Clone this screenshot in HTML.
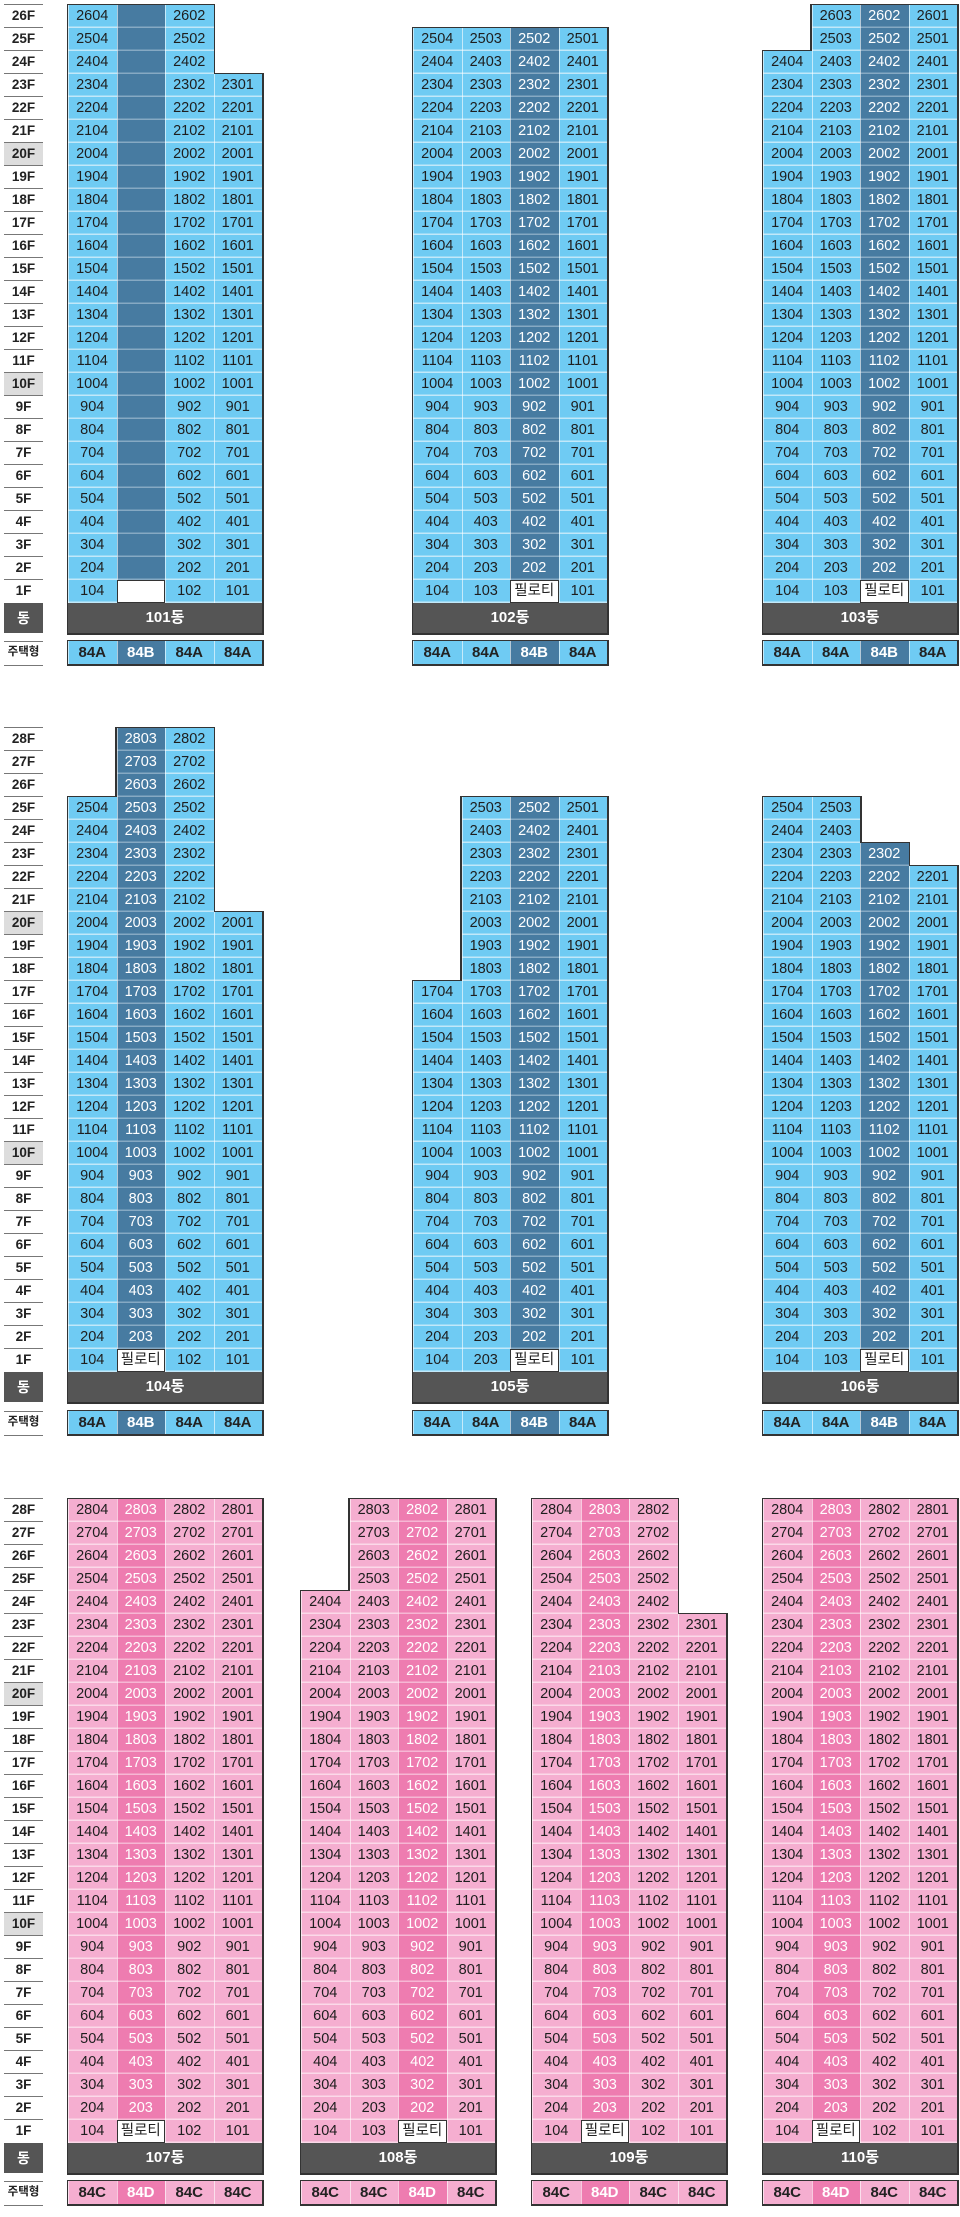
<!DOCTYPE html>
<html><head><meta charset="utf-8">
<style>
body{margin:0;width:960px;height:2217px;position:relative;background:#fff;font-family:"Liberation Sans","Noto Sans CJK KR",sans-serif;overflow:hidden}
.c{position:absolute;width:48.5px;text-align:center;font-size:14.5px;line-height:23px;word-spacing:60px;color:#1e1e1e;background:repeating-linear-gradient(#6fcbf3 0 21.5px,#c2e8f9 21.5px 23px);box-shadow:inset 1px 0 rgba(255,255,255,.6)}
.c::before,.dg::before,.t::before{content:"";position:absolute;left:-1.5px;top:-1.5px;right:-1.5px;bottom:-1.5px;background:#333;z-index:-1}
.d{background:repeating-linear-gradient(#477ba1 0 21.5px,#86a9c3 21.5px 23px);color:#fff}
.p{background:repeating-linear-gradient(#f5aed0 0 21.5px,#fbd9e9 21.5px 23px)}
.q{background:repeating-linear-gradient(#ee7cb0 0 21.5px,#f6b7d4 21.5px 23px);color:#fff}
.w{position:absolute;width:48.5px;height:23px;background:#fff;border:1.5px solid #333;box-sizing:border-box;text-align:center;line-height:20px;font-size:14.5px;color:#222}
.dg{position:absolute;height:30px;width:194px;background:#555;color:#fff;font-weight:bold;font-size:15px;text-align:center;line-height:30px}
.t{position:absolute;width:48.5px;height:23px;line-height:23px;text-align:center;font-weight:bold;font-size:15px;color:#222;background:#6fcbf3;box-shadow:inset 1px 0 rgba(255,255,255,.6)}
.t.d{background:#477ba1;color:#fff}.t.p{background:#f5aed0}.t.q{background:#ee7cb0;color:#fff}
.lb{position:absolute;left:4px;width:39px;font-weight:bold;font-size:13.5px;text-align:center;color:#222}
.lb div{height:23px;line-height:22px;border-top:1.5px solid #777;box-sizing:border-box}
.lb .g{background:#ddd}
.dl{position:absolute;left:4px;width:39px;height:30px;background:#555;color:#fff;font-weight:bold;font-size:14px;text-align:center;line-height:30px}
.tl{position:absolute;left:4px;width:39px;height:23px;border-top:1.5px solid #777;border-bottom:1.5px solid #777;font-weight:bold;font-size:11.5px;text-align:center;line-height:20px;color:#222}
</style></head><body>

<!-- ===== Section 1 ===== -->
<div class="lb" style="top:4px"><div>26F</div><div>25F</div><div>24F</div><div>23F</div><div>22F</div><div>21F</div><div class="g">20F</div><div>19F</div><div>18F</div><div>17F</div><div>16F</div><div>15F</div><div>14F</div><div>13F</div><div>12F</div><div>11F</div><div class="g">10F</div><div>9F</div><div>8F</div><div>7F</div><div>6F</div><div>5F</div><div>4F</div><div>3F</div><div>2F</div><div>1F</div></div>
<div class="dl" style="top:603px">동</div>
<div class="tl" style="top:641px">주택형</div>

<!-- 101 -->
<div class="c" style="left:68px;top:5px;height:598px">2604 2504 2404 2304 2204 2104 2004 1904 1804 1704 1604 1504 1404 1304 1204 1104 1004 904 804 704 604 504 404 304 204 104</div>
<div class="c d" style="left:116.5px;top:5px;height:598px"></div>
<div class="c" style="left:165px;top:5px;height:598px">2602 2502 2402 2302 2202 2102 2002 1902 1802 1702 1602 1502 1402 1302 1202 1102 1002 902 802 702 602 502 402 302 202 102</div>
<div class="c" style="left:213.5px;top:74px;height:529px">2301 2201 2101 2001 1901 1801 1701 1601 1501 1401 1301 1201 1101 1001 901 801 701 601 501 401 301 201 101</div>
<div class="w" style="left:116.5px;top:580px"></div>
<div class="dg" style="left:68px;top:603px">101동</div>
<div class="t" style="left:68px;top:641px">84A</div><div class="t d" style="left:116.5px;top:641px">84B</div><div class="t" style="left:165px;top:641px">84A</div><div class="t" style="left:213.5px;top:641px">84A</div>

<!-- 102 -->
<div class="c" style="left:413px;top:28px;height:575px">2504 2404 2304 2204 2104 2004 1904 1804 1704 1604 1504 1404 1304 1204 1104 1004 904 804 704 604 504 404 304 204 104</div>
<div class="c" style="left:461.5px;top:28px;height:575px">2503 2403 2303 2203 2103 2003 1903 1803 1703 1603 1503 1403 1303 1203 1103 1003 903 803 703 603 503 403 303 203 103</div>
<div class="c d" style="left:510px;top:28px;height:575px">2502 2402 2302 2202 2102 2002 1902 1802 1702 1602 1502 1402 1302 1202 1102 1002 902 802 702 602 502 402 302 202</div>
<div class="c" style="left:558.5px;top:28px;height:575px">2501 2401 2301 2201 2101 2001 1901 1801 1701 1601 1501 1401 1301 1201 1101 1001 901 801 701 601 501 401 301 201 101</div>
<div class="w" style="left:510px;top:580px">필로티</div>
<div class="dg" style="left:413px;top:603px">102동</div>
<div class="t" style="left:413px;top:641px">84A</div><div class="t" style="left:461.5px;top:641px">84A</div><div class="t d" style="left:510px;top:641px">84B</div><div class="t" style="left:558.5px;top:641px">84A</div>

<!-- 103 -->
<div class="c" style="left:763px;top:51px;height:552px">2404 2304 2204 2104 2004 1904 1804 1704 1604 1504 1404 1304 1204 1104 1004 904 804 704 604 504 404 304 204 104</div>
<div class="c" style="left:811.5px;top:5px;height:598px">2603 2503 2403 2303 2203 2103 2003 1903 1803 1703 1603 1503 1403 1303 1203 1103 1003 903 803 703 603 503 403 303 203 103</div>
<div class="c d" style="left:860px;top:5px;height:598px">2602 2502 2402 2302 2202 2102 2002 1902 1802 1702 1602 1502 1402 1302 1202 1102 1002 902 802 702 602 502 402 302 202</div>
<div class="c" style="left:908.5px;top:5px;height:598px">2601 2501 2401 2301 2201 2101 2001 1901 1801 1701 1601 1501 1401 1301 1201 1101 1001 901 801 701 601 501 401 301 201 101</div>
<div class="w" style="left:860px;top:580px">필로티</div>
<div class="dg" style="left:763px;top:603px">103동</div>
<div class="t" style="left:763px;top:641px">84A</div><div class="t" style="left:811.5px;top:641px">84A</div><div class="t d" style="left:860px;top:641px">84B</div><div class="t" style="left:908.5px;top:641px">84A</div>

<!-- ===== Section 2 ===== -->
<div class="lb" style="top:727px"><div>28F</div><div>27F</div><div>26F</div><div>25F</div><div>24F</div><div>23F</div><div>22F</div><div>21F</div><div class="g">20F</div><div>19F</div><div>18F</div><div>17F</div><div>16F</div><div>15F</div><div>14F</div><div>13F</div><div>12F</div><div>11F</div><div class="g">10F</div><div>9F</div><div>8F</div><div>7F</div><div>6F</div><div>5F</div><div>4F</div><div>3F</div><div>2F</div><div>1F</div></div>
<div class="dl" style="top:1372px">동</div>
<div class="tl" style="top:1411px">주택형</div>

<!-- 104 -->
<div class="c" style="left:68px;top:797px;height:575px">2504 2404 2304 2204 2104 2004 1904 1804 1704 1604 1504 1404 1304 1204 1104 1004 904 804 704 604 504 404 304 204 104</div>
<div class="c d" style="left:116.5px;top:728px;height:644px">2803 2703 2603 2503 2403 2303 2203 2103 2003 1903 1803 1703 1603 1503 1403 1303 1203 1103 1003 903 803 703 603 503 403 303 203</div>
<div class="c" style="left:165px;top:728px;height:644px">2802 2702 2602 2502 2402 2302 2202 2102 2002 1902 1802 1702 1602 1502 1402 1302 1202 1102 1002 902 802 702 602 502 402 302 202 102</div>
<div class="c" style="left:213.5px;top:912px;height:460px">2001 1901 1801 1701 1601 1501 1401 1301 1201 1101 1001 901 801 701 601 501 401 301 201 101</div>
<div class="w" style="left:116.5px;top:1349px">필로티</div>
<div class="dg" style="left:68px;top:1372px">104동</div>
<div class="t" style="left:68px;top:1411px">84A</div><div class="t d" style="left:116.5px;top:1411px">84B</div><div class="t" style="left:165px;top:1411px">84A</div><div class="t" style="left:213.5px;top:1411px">84A</div>

<!-- 105 -->
<div class="c" style="left:413px;top:981px;height:391px">1704 1604 1504 1404 1304 1204 1104 1004 904 804 704 604 504 404 304 204 104</div>
<div class="c" style="left:461.5px;top:797px;height:575px">2503 2403 2303 2203 2103 2003 1903 1803 1703 1603 1503 1403 1303 1203 1103 1003 903 803 703 603 503 403 303 203 203</div>
<div class="c d" style="left:510px;top:797px;height:575px">2502 2402 2302 2202 2102 2002 1902 1802 1702 1602 1502 1402 1302 1202 1102 1002 902 802 702 602 502 402 302 202</div>
<div class="c" style="left:558.5px;top:797px;height:575px">2501 2401 2301 2201 2101 2001 1901 1801 1701 1601 1501 1401 1301 1201 1101 1001 901 801 701 601 501 401 301 201 101</div>
<div class="w" style="left:510px;top:1349px">필로티</div>
<div class="dg" style="left:413px;top:1372px">105동</div>
<div class="t" style="left:413px;top:1411px">84A</div><div class="t" style="left:461.5px;top:1411px">84A</div><div class="t d" style="left:510px;top:1411px">84B</div><div class="t" style="left:558.5px;top:1411px">84A</div>

<!-- 106 -->
<div class="c" style="left:763px;top:797px;height:575px">2504 2404 2304 2204 2104 2004 1904 1804 1704 1604 1504 1404 1304 1204 1104 1004 904 804 704 604 504 404 304 204 104</div>
<div class="c" style="left:811.5px;top:797px;height:575px">2503 2403 2303 2203 2103 2003 1903 1803 1703 1603 1503 1403 1303 1203 1103 1003 903 803 703 603 503 403 303 203 103</div>
<div class="c d" style="left:860px;top:843px;height:529px">2302 2202 2102 2002 1902 1802 1702 1602 1502 1402 1302 1202 1102 1002 902 802 702 602 502 402 302 202</div>
<div class="c" style="left:908.5px;top:866px;height:506px">2201 2101 2001 1901 1801 1701 1601 1501 1401 1301 1201 1101 1001 901 801 701 601 501 401 301 201 101</div>
<div class="w" style="left:860px;top:1349px">필로티</div>
<div class="dg" style="left:763px;top:1372px">106동</div>
<div class="t" style="left:763px;top:1411px">84A</div><div class="t" style="left:811.5px;top:1411px">84A</div><div class="t d" style="left:860px;top:1411px">84B</div><div class="t" style="left:908.5px;top:1411px">84A</div>

<!-- ===== Section 3 ===== -->
<div class="lb" style="top:1498px"><div>28F</div><div>27F</div><div>26F</div><div>25F</div><div>24F</div><div>23F</div><div>22F</div><div>21F</div><div class="g">20F</div><div>19F</div><div>18F</div><div>17F</div><div>16F</div><div>15F</div><div>14F</div><div>13F</div><div>12F</div><div>11F</div><div class="g">10F</div><div>9F</div><div>8F</div><div>7F</div><div>6F</div><div>5F</div><div>4F</div><div>3F</div><div>2F</div><div>1F</div></div>
<div class="dl" style="top:2143px">동</div>
<div class="tl" style="top:2181px">주택형</div>

<!-- 107 -->
<div class="c p" style="left:68px;top:1499px;height:644px">2804 2704 2604 2504 2404 2304 2204 2104 2004 1904 1804 1704 1604 1504 1404 1304 1204 1104 1004 904 804 704 604 504 404 304 204 104</div>
<div class="c q" style="left:116.5px;top:1499px;height:644px">2803 2703 2603 2503 2403 2303 2203 2103 2003 1903 1803 1703 1603 1503 1403 1303 1203 1103 1003 903 803 703 603 503 403 303 203</div>
<div class="c p" style="left:165px;top:1499px;height:644px">2802 2702 2602 2502 2402 2302 2202 2102 2002 1902 1802 1702 1602 1502 1402 1302 1202 1102 1002 902 802 702 602 502 402 302 202 102</div>
<div class="c p" style="left:213.5px;top:1499px;height:644px">2801 2701 2601 2501 2401 2301 2201 2101 2001 1901 1801 1701 1601 1501 1401 1301 1201 1101 1001 901 801 701 601 501 401 301 201 101</div>
<div class="w" style="left:116.5px;top:2120px">필로티</div>
<div class="dg" style="left:68px;top:2143px">107동</div>
<div class="t p" style="left:68px;top:2181px">84C</div><div class="t q" style="left:116.5px;top:2181px">84D</div><div class="t p" style="left:165px;top:2181px">84C</div><div class="t p" style="left:213.5px;top:2181px">84C</div>

<!-- 108 -->
<div class="c p" style="left:301px;top:1591px;height:552px">2404 2304 2204 2104 2004 1904 1804 1704 1604 1504 1404 1304 1204 1104 1004 904 804 704 604 504 404 304 204 104</div>
<div class="c p" style="left:349.5px;top:1499px;height:644px">2803 2703 2603 2503 2403 2303 2203 2103 2003 1903 1803 1703 1603 1503 1403 1303 1203 1103 1003 903 803 703 603 503 403 303 203 103</div>
<div class="c q" style="left:398px;top:1499px;height:644px">2802 2702 2602 2502 2402 2302 2202 2102 2002 1902 1802 1702 1602 1502 1402 1302 1202 1102 1002 902 802 702 602 502 402 302 202</div>
<div class="c p" style="left:446.5px;top:1499px;height:644px">2801 2701 2601 2501 2401 2301 2201 2101 2001 1901 1801 1701 1601 1501 1401 1301 1201 1101 1001 901 801 701 601 501 401 301 201 101</div>
<div class="w" style="left:398px;top:2120px">필로티</div>
<div class="dg" style="left:301px;top:2143px">108동</div>
<div class="t p" style="left:301px;top:2181px">84C</div><div class="t p" style="left:349.5px;top:2181px">84C</div><div class="t q" style="left:398px;top:2181px">84D</div><div class="t p" style="left:446.5px;top:2181px">84C</div>

<!-- 109 -->
<div class="c p" style="left:532px;top:1499px;height:644px">2804 2704 2604 2504 2404 2304 2204 2104 2004 1904 1804 1704 1604 1504 1404 1304 1204 1104 1004 904 804 704 604 504 404 304 204 104</div>
<div class="c q" style="left:580.5px;top:1499px;height:644px">2803 2703 2603 2503 2403 2303 2203 2103 2003 1903 1803 1703 1603 1503 1403 1303 1203 1103 1003 903 803 703 603 503 403 303 203</div>
<div class="c p" style="left:629px;top:1499px;height:644px">2802 2702 2602 2502 2402 2302 2202 2102 2002 1902 1802 1702 1602 1502 1402 1302 1202 1102 1002 902 802 702 602 502 402 302 202 102</div>
<div class="c p" style="left:677.5px;top:1614px;height:529px">2301 2201 2101 2001 1901 1801 1701 1601 1501 1401 1301 1201 1101 1001 901 801 701 601 501 401 301 201 101</div>
<div class="w" style="left:580.5px;top:2120px">필로티</div>
<div class="dg" style="left:532px;top:2143px">109동</div>
<div class="t p" style="left:532px;top:2181px">84C</div><div class="t q" style="left:580.5px;top:2181px">84D</div><div class="t p" style="left:629px;top:2181px">84C</div><div class="t p" style="left:677.5px;top:2181px">84C</div>

<!-- 110 -->
<div class="c p" style="left:763px;top:1499px;height:644px">2804 2704 2604 2504 2404 2304 2204 2104 2004 1904 1804 1704 1604 1504 1404 1304 1204 1104 1004 904 804 704 604 504 404 304 204 104</div>
<div class="c q" style="left:811.5px;top:1499px;height:644px">2803 2703 2603 2503 2403 2303 2203 2103 2003 1903 1803 1703 1603 1503 1403 1303 1203 1103 1003 903 803 703 603 503 403 303 203</div>
<div class="c p" style="left:860px;top:1499px;height:644px">2802 2702 2602 2502 2402 2302 2202 2102 2002 1902 1802 1702 1602 1502 1402 1302 1202 1102 1002 902 802 702 602 502 402 302 202 102</div>
<div class="c p" style="left:908.5px;top:1499px;height:644px">2801 2701 2601 2501 2401 2301 2201 2101 2001 1901 1801 1701 1601 1501 1401 1301 1201 1101 1001 901 801 701 601 501 401 301 201 101</div>
<div class="w" style="left:811.5px;top:2120px">필로티</div>
<div class="dg" style="left:763px;top:2143px">110동</div>
<div class="t p" style="left:763px;top:2181px">84C</div><div class="t q" style="left:811.5px;top:2181px">84D</div><div class="t p" style="left:860px;top:2181px">84C</div><div class="t p" style="left:908.5px;top:2181px">84C</div>

</body></html>
